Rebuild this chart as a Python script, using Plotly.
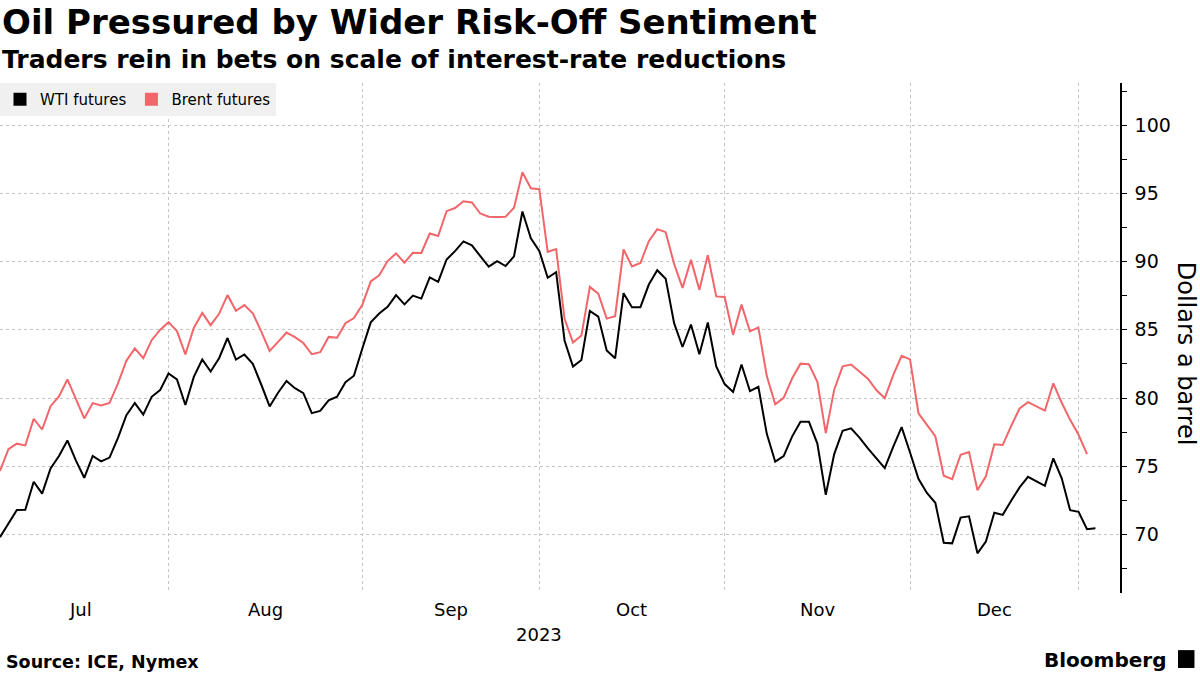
import pandas as pd
import plotly.graph_objects as go

# ---------------- data ----------------
title = "Oil Pressured by Wider Risk-Off Sentiment"
subtitle = "Traders rein in bets on scale of interest-rate reductions"
source = "Source: ICE, Nymex"
y_title = "Dollars a barrel"
year_label = "2023"
series_names = ["WTI futures", "Brent futures"]
holidays = ["2023-12-25", "2024-01-01"]

dates = [d for d in pd.bdate_range("2023-07-03", "2024-01-03")
         if d.strftime("%Y-%m-%d") not in holidays]

wti = [
    # Jul
    69.79, 70.79, 71.79, 71.80, 73.86, 72.99, 74.83, 75.75, 76.89, 75.42, 74.15,
    75.75, 75.35, 75.63, 77.07, 78.74, 79.63, 78.78, 80.09, 80.58, 81.80,
    # Aug
    81.37, 79.49, 81.55, 82.82, 81.94, 82.92, 84.40, 82.82, 83.19, 82.51, 80.99,
    79.38, 80.39, 81.25, 80.72, 80.35, 78.89, 79.05, 79.83, 80.10, 81.16, 81.63, 83.63,
    # Sep
    85.55, 86.20, 86.69, 87.54, 86.87, 87.51, 87.29, 88.84, 88.52, 90.16, 90.77,
    91.48, 91.20, 90.40, 89.63, 90.03, 89.68, 90.39, 93.68, 91.71, 90.79,
    # Oct
    88.82, 89.23, 84.22, 82.31, 82.79, 86.38, 85.97, 83.49, 82.91, 87.69, 86.66,
    86.66, 88.32, 89.37, 88.75, 85.49, 83.74, 85.39, 83.21, 85.54, 82.31, 81.02,
    # Nov
    80.44, 82.46, 80.51, 80.82, 77.37, 75.33, 75.74, 77.17, 78.26, 78.26, 76.66,
    72.90, 75.89, 77.60, 77.77, 77.10, 76.30, 75.54, 74.86, 76.41, 77.86, 76.00,
    # Dec
    74.07, 73.04, 72.32, 69.38, 69.34, 71.23, 71.32, 68.61, 69.47, 71.58, 71.43,
    72.47, 73.44, 74.22, 73.89, 73.56, 75.57, 74.11, 71.77, 71.65,
    # Jan
    70.38, 70.45,
]

brent = [
    # Jul
    74.65, 76.25, 76.65, 76.52, 78.47, 77.69, 79.40, 80.11, 81.36, 79.87, 78.50,
    79.63, 79.46, 79.64, 81.07, 82.74, 83.64, 82.92, 84.24, 84.99, 85.56,
    # Aug
    84.91, 83.20, 85.14, 86.24, 85.34, 86.17, 87.55, 86.40, 86.81, 86.21, 84.89,
    83.45, 84.12, 84.80, 84.46, 84.03, 83.21, 83.36, 84.48, 84.42, 85.49, 85.86, 86.83,
    # Sep
    88.55, 89.00, 90.04, 90.60, 89.92, 90.65, 90.64, 92.06, 91.88, 93.70, 93.93,
    94.43, 94.34, 93.53, 93.30, 93.27, 93.29, 93.96, 96.55, 95.38, 95.31,
    # Oct
    90.71, 90.92, 85.81, 84.07, 84.58, 88.15, 87.65, 85.82, 86.00, 90.89, 89.65,
    89.90, 91.50, 92.38, 92.16, 89.83, 88.07, 90.13, 87.93, 90.48, 87.45, 87.41,
    # Nov
    84.63, 86.85, 84.89, 85.18, 81.61, 79.54, 80.01, 81.43, 82.52, 82.47, 81.18,
    77.42, 80.61, 82.32, 82.45, 81.96, 81.42, 80.58, 79.98, 81.68, 83.10, 82.83,
    # Dec
    78.88, 78.03, 77.20, 74.30, 74.05, 75.84, 76.03, 73.24, 74.26, 76.61, 76.55,
    77.95, 79.23, 79.70, 79.39, 79.07, 81.07, 79.65, 78.40, 77.30,
    # Jan
    75.89,
]

y_range = [65.7, 103.1]
x_end = "2024-01-05 22:00"

# ---------------- styles ----------------
WTI_COLOR = "#000000"
BRENT_COLOR = "#f2666a"
GRID = "#c4c4c4"
FONT = "DejaVu Sans"

# month-end dates (gridlines) and month label positions
ds = pd.Series(dates)
month_end_idx = ds.groupby(ds.dt.to_period("M")).apply(lambda s: s.index[-1]).tolist()
month_end_dates = [dates[i] for i in month_end_idx if dates[i].year == 2023]

label_positions = []
prev = -1
for i in month_end_idx:
    d = dates[i]
    if d.year != 2023:
        continue
    mid = (prev + i) / 2.0
    base = int(mid)
    pos = dates[base] + pd.Timedelta(hours=24 * (mid - base))
    label_positions.append((pos, d.strftime("%b")))
    prev = i

dates_2023 = [d for d in dates if d.year == 2023]
year_pos = dates_2023[len(dates_2023) // 2]

fig = go.Figure()
fig.add_trace(go.Scatter(x=dates[:len(wti)], y=wti, mode="lines",
                         line=dict(color=WTI_COLOR, width=2), showlegend=False,
                         name=series_names[0]))
fig.add_trace(go.Scatter(x=dates[:len(brent)], y=brent, mode="lines",
                         line=dict(color=BRENT_COLOR, width=2), showlegend=False,
                         name=series_names[1]))
for name, col in zip(series_names, [WTI_COLOR, BRENT_COLOR]):
    fig.add_trace(go.Scatter(x=[None], y=[None], mode="markers", name=name,
                             marker=dict(symbol="square", size=13, color=col)))

annotations = []
for pos, lab in label_positions:
    annotations.append(dict(x=pos, y=0, xref="x", yref="paper", text=lab,
                            showarrow=False, yanchor="middle", yshift=-16,
                            font=dict(size=18, color="#000", family=FONT)))
annotations.append(dict(x=year_pos, y=0, xref="x", yref="paper", text=year_label,
                        showarrow=False, yanchor="middle", yshift=-41,
                        font=dict(size=18, color="#000", family=FONT)))
annotations += [
    dict(x=0, y=1.1196, xref="paper", yref="paper", text=f"<b>{title}</b>",
         showarrow=False, xanchor="left", yanchor="middle", xshift=0,
         font=dict(size=34, color="#000", family=FONT)),
    dict(x=0, y=1.047, xref="paper", yref="paper", text=f"<b>{subtitle}</b>",
         showarrow=False, xanchor="left", yanchor="middle", xshift=0,
         font=dict(size=25, color="#000", family=FONT)),
    dict(x=0, y=-0.135, xref="paper", yref="paper", text=f"<b>{source}</b>",
         showarrow=False, xanchor="left", yanchor="middle", xshift=4,
         font=dict(size=17.5, color="#000", family=FONT)),
    dict(x=1.043, y=-0.131, xref="paper", yref="paper", text="<b>Bloomberg</b>",
         showarrow=False, xanchor="right", yanchor="middle",
         font=dict(size=20, color="#000", family=FONT)),
    dict(x=1.059, y=0.469, xref="paper", yref="paper", text=y_title,
         showarrow=False, textangle=90, xanchor="center", yanchor="middle",
         font=dict(size=24, color="#000", family=FONT)),
]

fig.update_layout(
    width=1200, height=675,
    margin=dict(l=0, r=80, t=83, b=82, autoexpand=False),
    paper_bgcolor="white", plot_bgcolor="white",
    font=dict(family=FONT, color="#000"),
    annotations=annotations,
    shapes=[dict(type="rect", xref="paper", yref="paper",
                 x0=1.0518, x1=1.0665, y0=-0.147, y1=-0.112,
                 fillcolor="#000", line=dict(width=0))],
    legend=dict(orientation="h", x=0, y=1, xanchor="left", yanchor="top",
                bgcolor="#f0f0f0", font=dict(size=15, family=FONT),
                itemwidth=30, tracegroupgap=0),
    xaxis=dict(
        range=[dates[0], x_end],
        rangebreaks=[dict(bounds=["sat", "mon"]), dict(values=holidays)],
        tickmode="array", tickvals=month_end_dates, showticklabels=False,
        ticks="", showgrid=True, gridcolor=GRID, griddash="dot", gridwidth=1,
        showline=False, zeroline=False,
    ),
    yaxis=dict(
        range=y_range, side="right", dtick=5, tick0=0,
        ticks="outside", ticklen=5, tickcolor="#000", tickwidth=1,
        ticklabelstandoff=4,
        showline=True, linecolor="#000", linewidth=1.5,
        showgrid=True, gridcolor=GRID, griddash="dot", gridwidth=1,
        tickfont=dict(size=19, family=FONT),
        minor=dict(dtick=2.5, ticks="outside", ticklen=5, tickcolor="#000", showgrid=False),
        zeroline=False,
    ),
)

fig.write_html("out.html", config={"displayModeBar": False},
               post_script="document.body.style.margin='0';")
